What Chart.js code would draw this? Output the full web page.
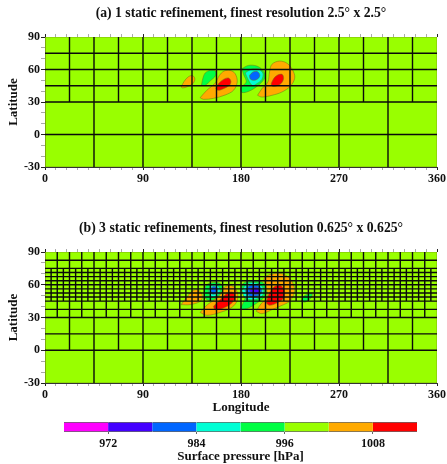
<!DOCTYPE html>
<html>
<head>
<meta charset="utf-8">
<script src="https://cdn.jsdelivr.net/npm/chart.js@4"></script>
<style>
html, body { margin: 0; background: #fff; width: 447px; height: 464px; overflow: hidden; }
canvas { position: absolute; left: 0; filter: blur(0.45px); }
#panelA { top: 0; }
#panelB { top: 215px; }
#colorbar { top: 415px; }
</style>
</head>
<body>
<canvas id="panelA" width="482" height="190"></canvas>
<canvas id="panelB" width="482" height="200"></canvas>
<canvas id="colorbar" width="447" height="49"></canvas>
<script>
// Axis labels and colour levels
const lonTicks = [0, 90, 180, 270, 360];
const latTicks = [-30, 0, 30, 60, 90];
const pressureTicks = [972, 984, 996, 1008];
const pressureEdges = [966, 972, 978, 984, 990, 996, 1002, 1008, 1014];
const levelColors = ['#ff00ff', '#4400ff', '#0066ff', '#00ffd5', '#00ff44', '#99ff00', '#ffaa00', '#ff0000'];
const [MAGENTA, PURPLE, BLUE, CYAN, GREEN, LIME, ORANGE, RED] = levelColors;

// Mesh lines, in degrees
const lons45 = [45, 90, 135, 180, 225, 270, 315];
const lons22 = [22.5, 67.5, 112.5, 157.5, 202.5, 247.5, 292.5, 337.5];
const lons11 = [11.25, 33.75, 56.25, 78.75, 101.25, 123.75, 146.25, 168.75, 191.25, 213.75, 236.25, 258.75, 281.25, 303.75, 326.25, 348.75];
const lons5 = [5.625, 16.875, 28.125, 39.375, 50.625, 61.875, 73.125, 84.375, 95.625, 106.875, 118.125, 129.375, 140.625, 151.875, 163.125, 174.375, 185.625, 196.875, 208.125, 219.375, 230.625, 241.875, 253.125, 264.375, 275.625, 286.875, 298.125, 309.375, 320.625, 331.875, 343.125, 354.375];
const latsA = [0, 30, 45, 60, 75];
const latsB = [0, 15, 30, 37.5, 45, 48.75, 52.5, 56.25, 60, 63.75, 67.5, 71.25, 75, 82.5];

// Pressure contours of panel (a): [lon, lat]
const aOrangeWest = [[125, 43.8], [127.8, 49.1], [131.8, 53.4], [135.7, 54.3], [137.6, 51.2], [135.7, 46.9], [130.8, 44.2], [126.5, 43]];
const aGreenWest = [[143.7, 45.4], [144.9, 51.5], [147.1, 56.8], [151.7, 59.2], [156.6, 58.6], [156.6, 54.3], [152.3, 50], [147.1, 45.4]];
const aOrangeMid = [[142.5, 34], [148.6, 40.8], [156.3, 47.5], [160.2, 54.6], [164.5, 58.6], [170, 59.2], [174.6, 56.2], [176.5, 48.5], [173.1, 40.8], [165.5, 36.5], [154.7, 33.4], [145.5, 32.5]];
const aRedMid = [[156.9, 42.3], [159.3, 46.9], [163.9, 50.9], [168.5, 52.2], [170.7, 49.1], [169.4, 45.4], [163.9, 42.3], [159.3, 40.8]];
const aGreenLow = [[180.8, 60.8], [186.9, 63.8], [194.6, 63.2], [200.1, 59.2], [202.2, 53.7], [199.2, 48.5], [193, 43.2], [186.9, 39.8], [180.8, 38.9], [179.9, 43.2], [184.8, 48.5], [182.3, 55.5]];
const aCyanLow = [[183.8, 56.8], [188.4, 59.8], [195.2, 60.8], [200.1, 56.8], [199.2, 50.9], [194.6, 46.9], [190.6, 45.1], [186.9, 50]];
const aBlueLow = [[187.8, 54.6], [190.9, 57.7], [195.2, 58], [197.3, 54.6], [195.2, 51.2], [191.5, 50], [188.4, 51.5]];
const aOrangeEast = [[195.2, 36.2], [199.2, 42.3], [204.7, 48.5], [206.2, 57.7], [208.4, 64.8], [215.4, 67.8], [222.8, 65.4], [228.3, 57.7], [229.2, 51.5], [225.2, 44.5], [217.5, 39.2], [208.4, 36.2], [199.2, 34.6]];
const aRedEast = [[207.7, 46.9], [209.9, 51.5], [213.6, 54.9], [217.9, 55.5], [219.1, 51.5], [216.6, 46.9], [211.4, 44.5], [208.4, 44.8]];

// Pressure contours of panel (b): [lon, lat]
const bOrangeWest = [[125, 41.8], [130.2, 48.5], [135.7, 54.6], [140.9, 55.2], [144.6, 49.4], [142.5, 44.8], [133.3, 41.8]];
const bOrangeMid = [[142.5, 34.7], [149.2, 41.8], [157.8, 47.9], [163.3, 56.4], [170, 59.5], [175.6, 55.5], [176.8, 46.3], [171.6, 39.3], [160.9, 34.7], [148.6, 32]];
const bRedMid = [[154.7, 40.2], [159.3, 44.8], [165.5, 50.9], [171.6, 53.4], [174.6, 49.4], [171.6, 43.3], [163.9, 38.7], [156.3, 37.2]];
const bGreenWest = [[146.2, 55.5], [148.6, 60.1], [154.7, 62.2], [161.5, 60.7], [163.3, 55.5], [159.3, 49.4], [152.3, 45.4], [147.1, 47.9]];
const bCyanWest = [[150.1, 54.6], [153.2, 59.5], [158.4, 59.5], [160.9, 54.6], [157.8, 50], [152.6, 48.5]];
const bBlueWest = [[151.7, 55.5], [154.7, 58.6], [158.4, 56.4], [157.8, 52.4], [153.5, 51.5]];
const bGreenLow = [[179.9, 55.5], [182.3, 61.6], [191.5, 63.7], [200.7, 61.6], [203.8, 54], [200.7, 47.9], [194.6, 43.3], [186.9, 38.7], [179.9, 37.8], [182.3, 44.2], [183.8, 49.4]];
const bCyanLow = [[180.8, 54.6], [185.4, 61], [194.6, 61.6], [200.7, 56.4], [199.2, 49.4], [191.5, 46.3], [183.8, 47.9]];
const bBlueLow = [[183.8, 54.6], [188.4, 59.5], [195.2, 59.5], [199.2, 54.6], [196.1, 50], [188.4, 49.4]];
const bPurpleLow = [[187.8, 54.6], [191.5, 57.6], [196.1, 56.4], [197, 52.4], [191.5, 51.5]];
const bMagentaLow = [[190.5, 55], [192.5, 56], [194.5, 55], [193, 53.5]];
const bOrangeEast = [[194, 35.7], [198.2, 42.4], [203.8, 47.9], [203, 58.6], [201.3, 66.2], [208.4, 69.8], [217.5, 70.2], [225.8, 64.7], [229.2, 54.6], [225.2, 45.4], [219.1, 41.8], [208.4, 37.2], [199.2, 33.5]];
const bRedEast = [[203.2, 43.3], [205.3, 50.9], [209.9, 57.6], [215.4, 59.5], [219.7, 55.5], [219.1, 47.9], [212.9, 43.3], [206.2, 41.2]];
const bGreenEast = [[235.3, 44.8], [237.5, 49.4], [242, 51.5], [245.4, 51.5], [244.2, 47.9], [239, 44.2]];

const serif = 'Liberation Serif';
const domain = [[0, -30], [360, -30], [360, 90], [0, 90]];

// Polígono cerrado relleno en coordenadas lon/lat
function contour(points, color, tension) {
    const closed = points.concat([points[0]]).map(p => ({ x: p[0], y: p[1] }));
    return {
        data: closed,
        showLine: true,
        fill: 'shape',
        backgroundColor: color,
        borderColor: 'rgba(110,120,20,0.75)',
        borderWidth: 0.7,
        tension,
        pointRadius: 0
    };
}

// Líneas de la malla: una sola serie con cortes entre tramos
function meshLines(lats, runs) {
    const data = [];
    lats.forEach(lat => data.push({ x: 0, y: lat }, { x: 360, y: lat }, { x: NaN, y: NaN }));
    runs.forEach(r => r.lons.forEach(lon => data.push({ x: lon, y: r.from }, { x: lon, y: r.to }, { x: NaN, y: NaN })));
    return { data, showLine: true, fill: false, borderColor: '#0a0a0a', borderWidth: 1.4, pointRadius: 0, spanGaps: false };
}

function tickStyle(list) {
    return {
        drawOnChartArea: false,
        tickLength: 3,
        tickWidth: 1,
        tickColor: c => list.includes(c.tick.value) ? '#222' : '#aaa'
    };
}

function panelChart(id, opts) {
    const fills = [contour(domain, LIME, 0)].concat(opts.contours.map(c => contour(c[0], c[1], 0.35)));
    // el primer dataset se pinta encima, por eso se invierte
    const datasets = [meshLines(opts.lats, opts.runs)].concat(fills.reverse());
    const canvas = document.getElementById(id);
    const xAxis = {
        type: 'linear', min: 0, max: 360,
        afterFit: s => { s.height = opts.xHeight; },
        grid: tickStyle(lonTicks),
        border: { color: '#333', width: 1 },
        ticks: {
            stepSize: 10, autoSkip: false, maxRotation: 0, padding: 2, color: '#111',
            font: { family: serif, weight: 'bold', size: 12 },
            callback: v => lonTicks.includes(v) ? String(v) : ''
        },
        title: {
            display: !!opts.xTitle, text: opts.xTitle || '', color: '#111', padding: { top: 0, bottom: 0 },
            font: { family: serif, weight: 'bold', size: 13 }
        }
    };
    return new Chart(canvas, {
        type: 'scatter',
        data: { datasets },
        options: {
            responsive: false,
            animation: false,
            events: [],
            plugins: {
                legend: { display: false },
                tooltip: { enabled: false },
                title: {
                    display: true, text: opts.title, color: '#111',
                    font: { family: serif, weight: 'bold', size: 13.7 },
                    padding: { top: 5, bottom: 12.6 }
                }
            },
            scales: {
                x: xAxis,
                x2: {
                    type: 'linear', position: 'top', min: 0, max: 360,
                    afterFit: s => { s.height = 3; },
                    grid: tickStyle(lonTicks),
                    border: { display: false },
                    ticks: { stepSize: 10, autoSkip: false, display: false }
                },
                y: {
                    type: 'linear', min: -30, max: 90,
                    afterFit: s => { s.width = 45; },
                    grid: { drawOnChartArea: false, tickLength: 4, tickWidth: 1, tickColor: c => latTicks.includes(c.tick.value) ? '#222' : '#aaa' },
                    border: { color: '#333', width: 1 },
                    ticks: {
                        stepSize: 10, autoSkip: false, padding: 1, color: '#111',
                        font: { family: serif, weight: 'bold', size: 12 },
                        callback: v => latTicks.includes(v) ? String(v) : ''
                    },
                    title: {
                        display: true, text: 'Latitude', color: '#111', padding: { top: 6, bottom: 0 },
                        font: { family: serif, weight: 'bold', size: 13 }
                    }
                },
                // eje vacío a la derecha: centra el título sobre el área del gráfico
                yRight: {
                    type: 'linear', position: 'right', min: -30, max: 90,
                    afterFit: s => { s.width = 45; },
                    grid: { display: false },
                    border: { display: false },
                    ticks: { display: false }
                }
            }
        }
    });
}

panelChart('panelA', {
    title: '(a) 1 static refinement, finest resolution 2.5\u00b0 x 2.5\u00b0',
    xHeight: 23,
    lats: latsA,
    runs: [{ lons: lons45, from: -30, to: 90 }, { lons: lons22, from: 30, to: 90 }],
    contours: [
        [aOrangeWest, ORANGE], [aGreenWest, GREEN], [aOrangeMid, ORANGE], [aRedMid, RED],
        [aGreenLow, GREEN], [aCyanLow, CYAN], [aBlueLow, BLUE], [aOrangeEast, ORANGE], [aRedEast, RED]
    ]
});

panelChart('panelB', {
    title: '(b) 3 static refinements, finest resolution 0.625\u00b0 x 0.625\u00b0',
    xHeight: 32,
    xTitle: 'Longitude',
    lats: latsB,
    runs: [
        { lons: lons45, from: -30, to: 90 }, { lons: lons22, from: 0, to: 90 },
        { lons: lons11, from: 30, to: 90 }, { lons: lons5, from: 45, to: 75 }
    ],
    contours: [
        [bOrangeWest, ORANGE], [bOrangeMid, ORANGE], [bRedMid, RED], [bGreenWest, GREEN], [bCyanWest, CYAN], [bBlueWest, BLUE],
        [bGreenLow, GREEN], [bCyanLow, CYAN], [bBlueLow, BLUE], [bPurpleLow, PURPLE],
        [bOrangeEast, ORANGE], [bRedEast, RED], [bGreenEast, GREEN]
    ]
});

// Barra de colores: una barra flotante por intervalo de presión
new Chart(document.getElementById('colorbar'), {
    type: 'bar',
    data: {
        labels: ['p'],
        datasets: levelColors.map((color, i) => ({
            data: [[pressureEdges[i], pressureEdges[i + 1]]],
            backgroundColor: color,
            borderColor: '#666',
            borderWidth: { top: 1, bottom: 1, left: 0, right: 0 },
            borderSkipped: false,
            grouped: false,
            barPercentage: 1,
            categoryPercentage: 1
        }))
    },
    options: {
        indexAxis: 'y',
        responsive: false,
        animation: false,
        events: [],
        layout: { padding: { left: 64, right: 30, top: 7, bottom: 0 } },
        plugins: { legend: { display: false }, tooltip: { enabled: false } },
        scales: {
            y: { display: false },
            x: {
                type: 'linear', min: 966, max: 1014,
                afterBuildTicks: s => { s.ticks = pressureTicks.map(value => ({ value })); },
                afterFit: s => { s.height = 32; },
                grid: { drawOnChartArea: false, tickLength: 2, tickColor: '#666' },
                border: { display: false },
                ticks: {
                    padding: 3, autoSkip: false, maxRotation: 0, color: '#111',
                    font: { family: serif, weight: 'bold', size: 12 },
                    callback: v => String(v)
                },
                title: {
                    display: true, text: 'Surface pressure [hPa]', color: '#111', padding: { top: 0, bottom: 0 },
                    font: { family: serif, weight: 'bold', size: 13 }
                }
            }
        }
    }
});
</script>
</body>
</html>
